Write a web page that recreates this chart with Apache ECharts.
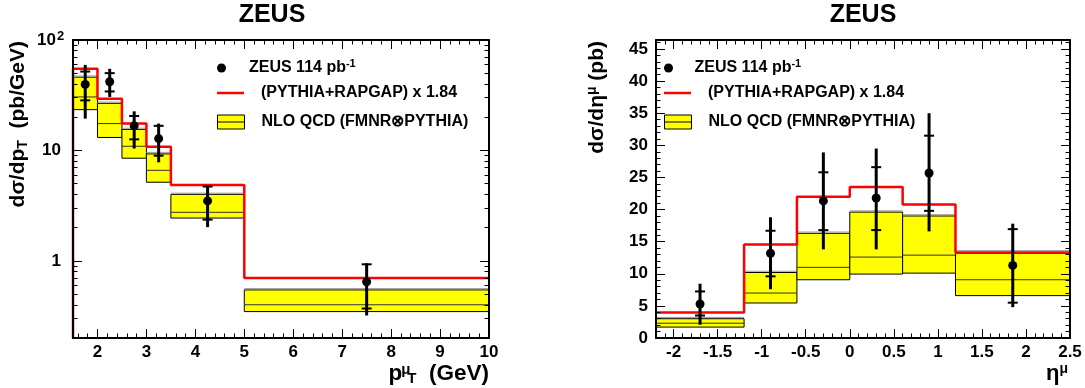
<!DOCTYPE html>
<html><head><meta charset="utf-8">
<script src="https://cdn.jsdelivr.net/npm/echarts@6/dist/echarts.min.js"></script>
<style>html,body{margin:0;padding:0;background:#fff}#c{width:1085px;height:388px}</style>
</head><body><div id="c"></div>
<script>
// ---------- Left panel: dsigma/dpT ----------
const ptEdges   = [1.5, 2, 2.5, 3, 3.5, 5, 10];
const ptCenters = [1.75, 2.25, 2.75, 3.25, 4.25, 7.5];
const ptData    = [39.6, 41.9, 16.7, 12.8, 3.49, 0.647];
const ptStatLo  = [28.4, 34.2, 12.6, 8.96, 2.36, 0.37];
const ptStatHi  = [51.8, 50.1, 20.5, 16.7, 4.71, 0.93];
const ptTotLo   = [19.4, 30.5, 10.4, 7.8, 2.02, 0.32];
const ptTotHi   = [59.5, 54.8, 22.6, 17.5, 4.87, 0.95];
const ptMC      = [54.8, 29.4, 17.5, 10.8, 4.87, 0.70];
const ptNloLo   = [23.4, 13.1, 8.5, 5.15, 2.44, 0.347];
const ptNloMid  = [30.5, 17.5, 10.9, 6.6, 2.75, 0.40];
const ptNloHi   = [46.1, 26.7, 15.5, 9.3, 4.0, 0.545];
const ptNloAlt  = [47.2, 27.4, 15.9, 9.6, 4.1, 0.56];
const ptXTicks  = [2, 3, 4, 5, 6, 7, 8, 9, 10];
const ptYMinor  = [0.3, 0.4, 0.5, 0.6, 0.7, 0.8, 0.9, 2, 3, 4, 5, 6, 7, 8, 9, 20, 30, 40, 50, 60, 70, 80, 90];

// ---------- Right panel: dsigma/deta ----------
const etaEdges   = [-2.2, -1.2, -0.6, 0, 0.6, 1.2, 2.5];
const etaCenters = [-1.7, -0.9, -0.3, 0.3, 0.9, 1.85];
const etaData    = [5.3, 13.2, 21.35, 21.8, 25.7, 11.3];
const etaStatLo  = [3.5, 9.6, 16.8, 16.8, 19.8, 5.5];
const etaStatHi  = [7.25, 16.7, 25.8, 26.6, 31.5, 16.95];
const etaTotLo   = [2.07, 7.6, 13.8, 13.8, 16.6, 4.8];
const etaTotHi   = [8.45, 18.8, 28.9, 29.5, 35.0, 17.8];
const etaMC      = [3.98, 14.55, 22.0, 23.5, 20.8, 13.3];
const etaNloLo   = [1.7, 5.45, 9.07, 9.95, 10.1, 6.6];
const etaNloMid  = [2.3, 7.0, 11.0, 12.6, 12.9, 9.07];
const etaNloHi   = [3.0, 10.2, 16.3, 19.6, 19.0, 13.2];
const etaNloAlt  = [3.2, 10.4, 16.5, 19.8, 19.2, 13.6];
const etaXTicks  = [-2, -1.5, -1, -0.5, 0, 0.5, 1, 1.5, 2, 2.5];
const etaYTicks  = [0, 5, 10, 15, 20, 25, 30, 35, 40, 45];

const S_DATA = 'ZEUS 114 pb-1';
const S_MC = '(PYTHIA+RAPGAP) x 1.84';
const S_NLO = 'NLO QCD (FMNR\u2297PYTHIA)';

const FONT = '"Liberation Sans", Arial, Helvetica, sans-serif';
const txt = (size, extra) => Object.assign({fontFamily: FONT, fontWeight: 'bold', fontSize: size, color: '#000'}, extra || {});
const gtxt = (size, extra) => Object.assign({fontFamily: FONT, fontWeight: 'bold', fontSize: size, fill: '#000'}, extra || {});

function steps(from, to, step) {
  const out = []; const n = Math.round((to - from) / step);
  for (let i = 0; i <= n; i++) out.push(+(from + i * step).toFixed(4));
  return out;
}
const ptXMinor = steps(1.6, 9.8, 0.2);
const etaXMinor = steps(-2.1, 2.4, 0.1);
const etaYMinor = steps(1, 46, 1);

function stepPoints(edges, vals, base) {
  const pts = [];
  if (base != null) pts.push([edges[0], base]);
  vals.forEach((v, i) => { pts.push([edges[i], v]); pts.push([edges[i + 1], v]); });
  return pts;
}

function errorBarItem(params, api) {
  const x = api.value(0);
  const c = api.coord([x, api.value(1)]);
  const sLo = api.coord([x, api.value(2)])[1], sHi = api.coord([x, api.value(3)])[1];
  const tLo = api.coord([x, api.value(4)])[1], tHi = api.coord([x, api.value(5)])[1];
  const hw = 5;
  return {type: 'group', children: [
    {type: 'line', shape: {x1: c[0], y1: tLo, x2: c[0], y2: tHi}, style: {stroke: '#000', lineWidth: 3}},
    {type: 'line', shape: {x1: c[0] - hw, y1: sLo, x2: c[0] + hw, y2: sLo}, style: {stroke: '#000', lineWidth: 2}},
    {type: 'line', shape: {x1: c[0] - hw, y1: sHi, x2: c[0] + hw, y2: sHi}, style: {stroke: '#000', lineWidth: 2}},
    {type: 'circle', shape: {cx: c[0], cy: c[1], r: 4.5}, style: {fill: '#000'}}
  ]};
}
function bandItem(params, api) {
  const x0 = api.value(0), x1 = api.value(1);
  const pLo = api.coord([x0, api.value(2)]);
  const pHi = api.coord([x1, api.value(4)]);
  const yMid = api.coord([x0, api.value(3)])[1];
  const yAlt = api.coord([x0, api.value(5)])[1];
  return {type: 'group', children: [
    {type: 'rect', shape: {x: pLo[0], y: pHi[1], width: pHi[0] - pLo[0], height: pLo[1] - pHi[1]},
     style: {fill: '#ffff00', stroke: '#000', lineWidth: 1}},
    {type: 'line', shape: {x1: pLo[0], y1: yMid, x2: pHi[0], y2: yMid}, style: {stroke: '#333', lineWidth: 1}},
    {type: 'line', shape: {x1: pLo[0], y1: yAlt, x2: pHi[0], y2: yAlt}, style: {stroke: '#999', lineWidth: 1}}
  ]};
}

function ax(o) {
  return {
    type: o.type || 'value', gridIndex: o.grid, position: o.pos, min: o.min, max: o.max,
    logBase: 10,
    axisLine: {show: !!o.line, onZero: false, lineStyle: {color: '#000', width: 2}},
    axisTick: {show: true, inside: true, length: o.len, customValues: o.ticks, lineStyle: {color: '#000', width: 1}},
    axisLabel: Object.assign({show: !!o.labels, customValues: Array.isArray(o.labels) ? o.labels : undefined,
      margin: o.margin || 6, formatter: o.fmt}, txt(17), o.labelExtra || {}),
    splitLine: {show: false},
    z: 5
  };
}

const supRich = {
  sup: txt(13, {verticalAlign: 'top', lineHeight: 12, width: 1, align: 'left', padding: [0, 0, 0, 4]})
};
const gRich = {
  sup: gtxt(14, {verticalAlign: 'top', lineHeight: 14}),
  sub: gtxt(14, {verticalAlign: 'bottom', lineHeight: 14}),
  st: gtxt(15, {verticalAlign: 'top', lineHeight: 15, width: 3, align: 'left', padding: [0, 0, 0, 2]}),
  sb: gtxt(15, {verticalAlign: 'bottom', lineHeight: 15, align: 'left'})
};

const logFmt = v => Math.abs(v - 100) < 1e-6 ? '10{sup|2}' : (Math.abs(v - 10) < 1e-6 ? '10' : (Math.abs(v - 1) < 1e-6 ? '1' : ''));

const xAxes = [
  ax({grid: 0, pos: 'bottom', min: 1.5, max: 10, line: true, len: 9, ticks: ptXTicks, labels: ptXTicks}),
  ax({grid: 0, pos: 'top', min: 1.5, max: 10, line: true, len: 9, ticks: ptXTicks}),
  ax({grid: 1, pos: 'bottom', min: 1.5, max: 10, line: false, len: 4.5, ticks: ptXMinor}),
  ax({grid: 1, pos: 'top', min: 1.5, max: 10, line: false, len: 4.5, ticks: ptXMinor}),
  ax({grid: 2, pos: 'bottom', min: -2.2, max: 2.5, line: true, len: 9, ticks: etaXTicks, labels: etaXTicks}),
  ax({grid: 2, pos: 'top', min: -2.2, max: 2.5, line: true, len: 9, ticks: etaXTicks}),
  ax({grid: 3, pos: 'bottom', min: -2.2, max: 2.5, line: false, len: 4.5, ticks: etaXMinor}),
  ax({grid: 3, pos: 'top', min: -2.2, max: 2.5, line: false, len: 4.5, ticks: etaXMinor})
];
const yAxes = [
  ax({grid: 0, pos: 'left', type: 'log', min: 0.2, max: 100, line: true, len: 9, labels: true, fmt: logFmt, margin: 12,
      labelExtra: {lineHeight: 20, rich: supRich}}),
  ax({grid: 0, pos: 'right', type: 'log', min: 0.2, max: 100, line: true, len: 9}),
  ax({grid: 1, pos: 'left', type: 'log', min: 0.2, max: 100, line: false, len: 4.5, ticks: ptYMinor}),
  ax({grid: 1, pos: 'right', type: 'log', min: 0.2, max: 100, line: false, len: 4.5, ticks: ptYMinor}),
  ax({grid: 2, pos: 'left', min: 0, max: 46.4, line: true, len: 9, ticks: etaYTicks, labels: etaYTicks, margin: 8}),
  ax({grid: 2, pos: 'right', min: 0, max: 46.4, line: true, len: 9, ticks: etaYTicks}),
  ax({grid: 3, pos: 'left', min: 0, max: 46.4, line: false, len: 4.5, ticks: etaYMinor}),
  ax({grid: 3, pos: 'right', min: 0, max: 46.4, line: false, len: 4.5, ticks: etaYMinor})
];

const gridBox = [
  {left: 73, top: 40, width: 416, height: 298},
  {left: 73, top: 40, width: 416, height: 298},
  {left: 656, top: 40, width: 414, height: 298},
  {left: 656, top: 40, width: 414, height: 298}
].map(g => Object.assign({containLabel: false, outerBoundsMode: 'none'}, g));

function legendItem(left, top, name, icon, w, h, style, padLeft) {
  return {
    show: true, left, top, padding: 0, orient: 'vertical', selectedMode: false,
    itemWidth: w, itemHeight: h, itemGap: 0,
    data: [{name, icon, itemStyle: style}],
    formatter: n => n === S_DATA ? 'ZEUS 114 pb{sup|-1}' : n,
    textStyle: txt(16, {lineHeight: 20, padding: [0, 0, 0, padLeft], rich: {sup: txt(11, {verticalAlign: 'top', lineHeight: 11})}})
  };
}
const boxIcon = 'path://M0,0H27V14H0ZM0,7H27';
const legends = [
  legendItem(217, 58, S_DATA, 'circle', 33, 9, {color: '#000', borderWidth: 0}, 6),
  legendItem(217, 83, S_MC, 'rect', 27, 2.5, {color: '#ff0000', borderWidth: 0}, 12),
  legendItem(217, 112, S_NLO, boxIcon, 27, 14, {color: '#ffff00', borderColor: '#000', borderWidth: 1}, 12),
  legendItem(664, 58, S_DATA, 'circle', 36, 9, {color: '#000', borderWidth: 0}, 3),
  legendItem(664, 83, S_MC, 'rect', 27, 2.5, {color: '#ff0000', borderWidth: 0}, 12),
  legendItem(664, 112, S_NLO, boxIcon, 27, 14, {color: '#ffff00', borderColor: '#000', borderWidth: 1}, 12)
];

function panelSeries(xi, yi, edges, centers, data, sLo, sHi, tLo, tHi, mc, lo, mid, hi, alt, base) {
  return [
    {name: S_NLO, type: 'custom', coordinateSystem: 'cartesian2d', xAxisIndex: xi, yAxisIndex: yi, z: 2, clip: false,
     itemStyle: {color: '#ffff00', borderColor: '#000'},
     encode: {x: [0, 1], y: [2, 3, 4, 5]},
     renderItem: bandItem,
     data: lo.map((v, i) => [edges[i], edges[i + 1], v, mid[i], hi[i], alt[i]])},
    {name: S_MC, type: 'line', xAxisIndex: xi, yAxisIndex: yi, z: 3, showSymbol: false, symbol: 'none',
     itemStyle: {color: '#ff0000'}, lineStyle: {color: '#ff0000', width: 2.5}, animation: false,
     data: stepPoints(edges, mc, base)},
    {name: S_DATA, type: 'custom', coordinateSystem: 'cartesian2d', xAxisIndex: xi, yAxisIndex: yi, z: 4, clip: false,
     itemStyle: {color: '#000'},
     encode: {x: 0, y: [1, 2, 3, 4, 5]},
     renderItem: errorBarItem,
     data: data.map((v, i) => [centers[i], v, sLo[i], sHi[i], tLo[i], tHi[i]])}
  ];
}

function axisTitle(text, x, y, rot, size) {
  return {type: 'text', x, y, rotation: rot, z: 10,
    style: gtxt(size || 21, {text, align: 'right', verticalAlign: 'middle', lineHeight: 24, rich: gRich})};
}

const option = {
  animation: false,
  backgroundColor: '#fff',
  title: [
    {text: 'ZEUS', left: 272, top: 3, padding: 0, textAlign: 'center', textStyle: txt(25)},
    {text: 'ZEUS', left: 863, top: 3, padding: 0, textAlign: 'center', textStyle: txt(25)}
  ],
  graphic: [
    axisTitle('d\u03c3/dp{sub|T}  (pb/GeV)', 18, 41, Math.PI / 2),
    axisTitle('d\u03c3/d\u03b7{sup|\u03bc} (pb)', 597, 41, Math.PI / 2),
    axisTitle('p{st|\u03bc}{sb|T}  (GeV)', 489, 374, 0, 22.5),
    axisTitle('\u03b7{sup|\u03bc}', 1068, 374, 0, 22)
  ],
  legend: legends,
  grid: gridBox,
  xAxis: xAxes,
  yAxis: yAxes,
  series: [
    ...panelSeries(0, 0, ptEdges, ptCenters, ptData, ptStatLo, ptStatHi, ptTotLo, ptTotHi, ptMC, ptNloLo, ptNloMid, ptNloHi, ptNloAlt, 0.2),
    ...panelSeries(4, 4, etaEdges, etaCenters, etaData, etaStatLo, etaStatHi, etaTotLo, etaTotHi, etaMC, etaNloLo, etaNloMid, etaNloHi, etaNloAlt, null)
  ]
};
const chart = echarts.init(document.getElementById('c'), null, {renderer: 'canvas'});
chart.setOption(option);
</script>
</body></html>
